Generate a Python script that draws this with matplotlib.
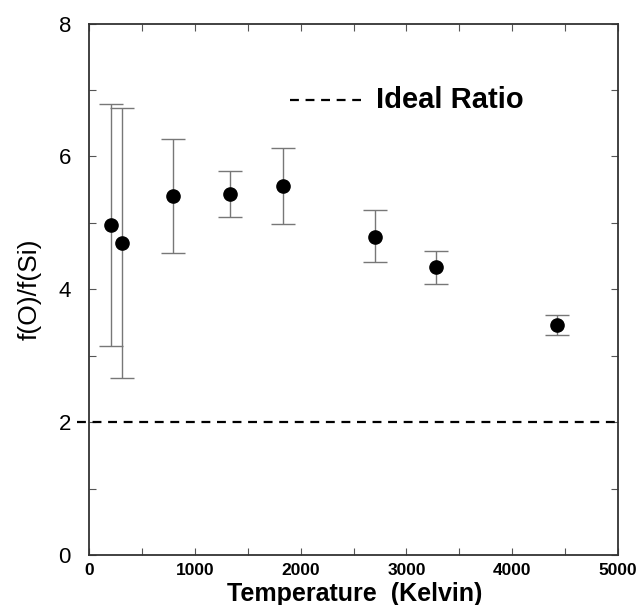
import numpy as np
import matplotlib
matplotlib.use("Agg")
import matplotlib.pyplot as plt
from matplotlib.ticker import MultipleLocator

plt.rcParams['font.family'] = ['Liberation Sans', 'DejaVu Sans']

# data
temperature = [208, 309, 794, 1336, 1834, 2703, 3277, 4427]
ratio = [4.97, 4.69, 5.40, 5.44, 5.56, 4.79, 4.34, 3.46]
err_low = [1.82, 2.02, 0.86, 0.35, 0.58, 0.38, 0.26, 0.15]
err_high = [1.82, 2.04, 0.86, 0.34, 0.56, 0.40, 0.24, 0.15]
ideal_ratio = 2.0
x_ticks = [0, 1000, 2000, 3000, 4000, 5000]
y_ticks = [0, 2, 4, 6, 8]

fig = plt.figure(figsize=(6.41, 6.05), dpi=100)
ax = fig.add_axes([89 / 641, 50 / 605, 529 / 641, 531.5 / 605])

# ideal ratio line (starts a bit left of the axis, as in the original)
ax.plot([-110, 5000], [ideal_ratio, ideal_ratio], ls=(0, (4, 3)), color='black',
        lw=1.6, clip_on=False, zorder=2)

ax.errorbar(temperature, ratio, yerr=[err_low, err_high], fmt='none',
            ecolor='#777777', elinewidth=1.0, capsize=8.5, capthick=1.0, zorder=3)
ax.plot(temperature, ratio, 'o', color='black', ms=9.5, zorder=4)

# legend drawn by hand like the original
ax.plot([1900, 2570], [6.85, 6.85], ls=(0, (4, 3)), color='black', lw=1.6)
ax.text(2710, 6.85, 'Ideal Ratio', fontsize=21, fontweight='bold',
        va='center', ha='left')

ax.set_xlim(0, 5000)
ax.set_ylim(0, 8)
ax.set_xticks(x_ticks)
ax.set_yticks(y_ticks)
ax.xaxis.set_minor_locator(MultipleLocator(500))
ax.yaxis.set_minor_locator(MultipleLocator(1))
ax.tick_params(which='both', direction='in', top=True, right=True,
               length=5, width=0.8, color='#555555')
ax.tick_params(axis='x', labelsize=12.5, pad=6)
ax.tick_params(axis='y', labelsize=16, pad=13)
for lab in ax.get_xticklabels():
    lab.set_fontweight('bold')

for sp in ax.spines.values():
    sp.set_linewidth(1.3)
    sp.set_color('#333333')

ax.set_xlabel('Temperature  (Kelvin)', fontsize=18, fontweight='bold')
ax.xaxis.label.set_va('baseline')
ax.xaxis.set_label_coords(0.503, -46.5 / 531.5)
ax.set_ylabel('f(O)/f(Si)', fontsize=19)
ax.yaxis.set_label_coords(-47 / 529, 0.5)

fig.savefig('out.png', dpi=100)
